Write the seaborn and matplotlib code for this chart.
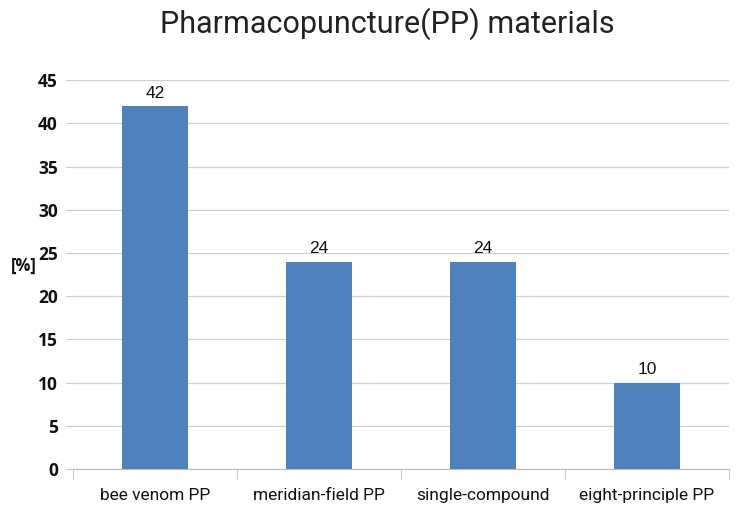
import numpy as np
import pandas as pd
import seaborn as sns
import matplotlib.pyplot as plt

categories = ['bee venom PP', 'meridian-field PP', 'single-compound', 'eight-principle PP']
percent = [42, 24, 24, 10]
y_ticks = [0, 5, 10, 15, 20, 25, 30, 35, 40, 45]

sns.set_style('white')
plt.rcParams['font.family'] = ['Roboto', 'DejaVu Sans']

df = pd.DataFrame({'material': categories, 'percent': percent})

fig = plt.figure(figsize=(7.46, 5.2), dpi=100)
ax = fig.add_axes([0.098, 0.098, 0.879, 0.748])
sns.barplot(data=df, x='material', y='percent', color='#4F81BD', width=0.4,
            saturation=1, linewidth=0, ax=ax, zorder=3)

for i, v in enumerate(percent):
    ax.text(i, v + 0.6, str(v), ha='center', va='bottom', fontsize=12.5,
            family=['Liberation Sans', 'DejaVu Sans'], color='#111111')

ax.set_ylim(0, 45)
ax.set_xlim(-0.5, len(categories) - 0.5)
ax.set_yticks(y_ticks)
ax.set_yticklabels([str(t) for t in y_ticks], fontsize=12.5, fontweight='bold',
                   family=['Open Sans', 'DejaVu Sans'], color='#111111')
ax.yaxis.grid(True, color='#D0D0D0', linewidth=0.9, zorder=0)
ax.tick_params(axis='y', left=True, length=5, color='#C8C8C8', pad=6)

# category boundary ticks on the x axis
ax.set_xticks(np.arange(-0.5, len(categories), 1.0), minor=True)
ax.tick_params(axis='x', which='minor', bottom=True, length=8, color='#C0C0C0')
ax.tick_params(axis='x', which='major', bottom=False, length=0, pad=14,
               labelsize=12.5, labelcolor='#111111')

for s in ['top', 'right', 'left']:
    ax.spines[s].set_visible(False)
ax.spines['bottom'].set_color('#BBBBBB')

ax.set_xlabel('')
ax.set_ylabel('[%]', rotation=0, fontsize=12, fontweight='bold', labelpad=12,
              family=['Open Sans', 'DejaVu Sans'], color='#111111')
ax.yaxis.set_label_coords(-0.075, 0.5)

fig.suptitle('Pharmacopuncture(PP) materials', x=0.519, fontsize=22, y=0.985, color='#222222')

plt.savefig('out.png', dpi=100)
